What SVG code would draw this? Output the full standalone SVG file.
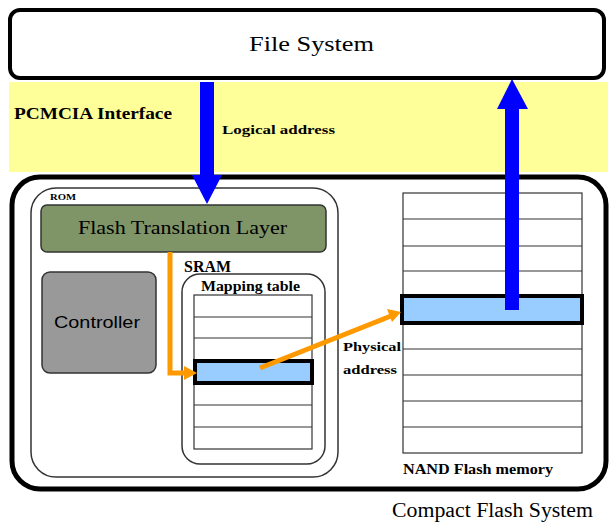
<svg xmlns="http://www.w3.org/2000/svg" width="613" height="529" viewBox="0 0 613 529">
  <style>
    .serif { font-family: "Liberation Serif", "DejaVu Serif", serif; fill: #000; }
    .bold { font-weight: bold; }
    .sans { font-family: "Liberation Sans", "DejaVu Sans", sans-serif; fill: #000; }
    .thin { fill: #fff; stroke: #333; stroke-width: 1.5; }
    .row { fill: #fff; stroke: #333; stroke-width: 1.2; }
    .line { stroke: #333; stroke-width: 1.2; }
    .hl { fill: #99CCFF; stroke: #000; stroke-width: 4; }
    .orange { fill: none; stroke: #FF9900; stroke-width: 5; }
    .blue { fill: #0000FF; }
  </style>

  <!-- interface band -->
  <rect id="pcmcia-band" x="9" y="82" width="599" height="90" fill="#FFFF99"/>
  <text class="serif bold" x="14" y="119" font-size="16" textLength="158" lengthAdjust="spacingAndGlyphs">PCMCIA Interface</text>

  <!-- file system -->
  <g id="file-system">
    <rect x="10" y="10" width="594" height="68" rx="10" fill="#fff" stroke="#000" stroke-width="4"/>
    <text class="serif" x="249" y="51" font-size="21" textLength="125" lengthAdjust="spacingAndGlyphs">File System</text>
  </g>

  <!-- compact flash system enclosure -->
  <g id="compact-flash">
    <rect x="12" y="177" width="594" height="312" rx="28" fill="#fff" stroke="#000" stroke-width="5"/>
    <text class="serif" x="392" y="517" font-size="20" textLength="201" lengthAdjust="spacingAndGlyphs">Compact Flash System</text>
  </g>

  <!-- ROM -->
  <g id="rom">
    <rect class="thin" x="31" y="188" width="307" height="289" rx="25"/>
    <text class="serif bold" x="50" y="200" font-size="9" textLength="26" lengthAdjust="spacingAndGlyphs">ROM</text>
  </g>

  <g id="ftl">
    <rect x="41" y="205" width="285" height="47" rx="6" fill="#7F9467" stroke="#333" stroke-width="1.5"/>
    <text class="serif" x="78" y="234" font-size="19" textLength="209" lengthAdjust="spacingAndGlyphs">Flash Translation Layer</text>
  </g>

  <g id="controller">
    <rect x="42" y="272" width="114" height="101" rx="8" fill="#999999" stroke="#333" stroke-width="1.5"/>
    <text class="sans" x="54" y="328" font-size="17" textLength="86" lengthAdjust="spacingAndGlyphs">Controller</text>
  </g>

  <!-- SRAM with mapping table -->
  <g id="sram">
    <text class="serif bold" x="184" y="272" font-size="16" textLength="47" lengthAdjust="spacingAndGlyphs">SRAM</text>
    <rect class="thin" x="182" y="274" width="143" height="190" rx="18"/>
    <text class="serif bold" x="201" y="291" font-size="14" textLength="99" lengthAdjust="spacingAndGlyphs">Mapping table</text>
    <rect class="row" x="194" y="295" width="118" height="154"/>
    <line class="line" x1="194" y1="317" x2="312" y2="317"/>
    <line class="line" x1="194" y1="338" x2="312" y2="338"/>
    <line class="line" x1="194" y1="405" x2="312" y2="405"/>
    <line class="line" x1="194" y1="427" x2="312" y2="427" stroke-width="2"/>
    <rect class="hl" x="195" y="361" width="117" height="22"/>
  </g>

  <!-- NAND flash memory -->
  <g id="nand">
    <rect class="row" x="403" y="193" width="179" height="260"/>
    <line class="line" x1="403" y1="219" x2="582" y2="219"/>
    <line class="line" x1="403" y1="246" x2="582" y2="246"/>
    <line class="line" x1="403" y1="271" x2="582" y2="271"/>
    <line class="line" x1="403" y1="349" x2="582" y2="349"/>
    <line class="line" x1="403" y1="375" x2="582" y2="375"/>
    <line class="line" x1="403" y1="401" x2="582" y2="401" stroke-width="2"/>
    <line class="line" x1="403" y1="427" x2="582" y2="427"/>
    <rect class="hl" x="402" y="296" width="180" height="27"/>
    <text class="serif bold" x="403" y="474" font-size="14" textLength="150" lengthAdjust="spacingAndGlyphs">NAND Flash memory</text>
  </g>

  <!-- connectors -->
  <g id="connectors">
    <!-- logical address down into the FTL -->
    <polygon class="blue" points="200,82 214,82 214,175 222,175 207,204 192,175 200,175"/>
    <text class="serif bold" x="222" y="134" font-size="13.5" textLength="113" lengthAdjust="spacingAndGlyphs">Logical address</text>
    <!-- data back up to the file system -->
    <polygon class="blue" points="505,310 519,310 519,109 528,109 512,79 497,109 505,109"/>
    <!-- FTL lookup into mapping table -->
    <polyline class="orange" points="170,252 170,373 186,373"/>
    <polygon fill="#FF9900" points="184,366 197,373 184,380"/>
    <!-- mapping entry to physical page -->
    <line class="orange" x1="260" y1="368" x2="391" y2="316"/>
    <polygon fill="#FF9900" points="387,309 401,312 392,322"/>
    <text class="serif bold" x="343" y="351" font-size="13.5" textLength="58" lengthAdjust="spacingAndGlyphs">Physical</text>
    <text class="serif bold" x="343" y="374" font-size="13.5" textLength="54" lengthAdjust="spacingAndGlyphs">address</text>
  </g>
</svg>
